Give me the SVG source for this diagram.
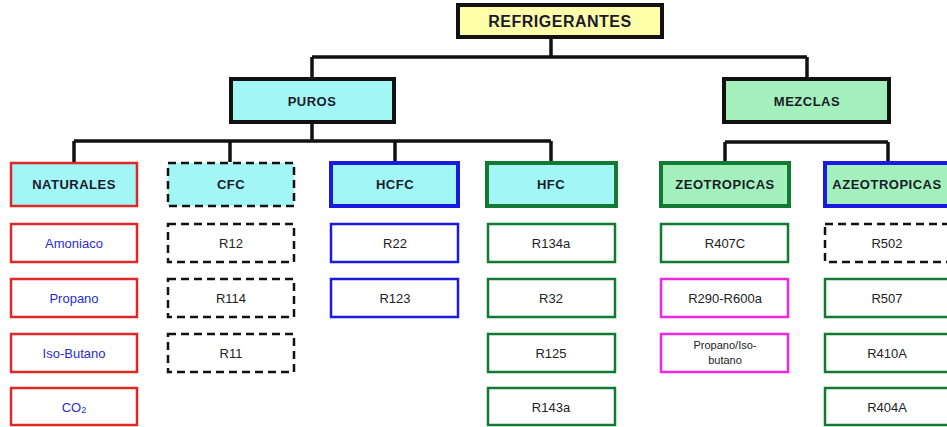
<svg xmlns="http://www.w3.org/2000/svg" width="947" height="427" viewBox="0 0 947 427">
<style>
text{font-family:"Liberation Sans",Arial,sans-serif;text-anchor:middle;dominant-baseline:central}
.hd{font-weight:bold;font-size:13px;fill:#1a1a2a;letter-spacing:0.5px}
.ch{font-size:13px;fill:#222}
.bl{fill:#2a2ad0}
.cy{fill:#a2f6f6}
.gr{fill:#a4f0bc}
.wh{fill:#fff}
.k{stroke:#111;stroke-width:4}
.kd{stroke:#111;stroke-width:2.5;stroke-dasharray:8 5}
.r{stroke:#e02828;stroke-width:2.5}
.b{stroke:#1a1ae0;stroke-width:2.5}
.bt{stroke:#1a1ae0;stroke-width:4}
.g{stroke:#127a32;stroke-width:2.5}
.gt{stroke:#127a32;stroke-width:4}
.m{stroke:#ee28e0;stroke-width:2.5}
.conn{stroke:#111;stroke-width:3.5;fill:none}
</style>
<rect width="947" height="427" fill="#fff"/>
<g id="connectors" class="conn">
<path d="M551,37V57M312,57H807M312,57V78M807,57V78"/>
<path d="M312,122V141M74,141H551M74,141V162M230,141V162M395,141V162M551,141V162"/>
<path d="M725,142H888M725,142V162M888,142V162"/>
</g>
<g id="refrigerantes"><rect x="458" y="5" width="204" height="32" fill="#ffffaa" class="k"/><text x="560" y="21" class="hd" style="font-size:16px">REFRIGERANTES</text></g>
<g id="puros"><rect x="231" y="79" width="163" height="43" class="cy k"/><text x="312" y="101" class="hd">PUROS</text></g>
<g id="mezclas"><rect x="724" y="79" width="165" height="43" class="gr k"/><text x="807" y="101" class="hd">MEZCLAS</text></g>
<g id="naturales"><rect x="11" y="163" width="126" height="43" class="cy r"/><text x="74" y="184" class="hd">NATURALES</text></g>
<g id="cfc"><rect x="168" y="163" width="126" height="43" class="cy kd"/><text x="231" y="184" class="hd">CFC</text></g>
<g id="hcfc"><rect x="331" y="163" width="127" height="43" class="cy bt"/><text x="395" y="184" class="hd">HCFC</text></g>
<g id="hfc"><rect x="487" y="163" width="129" height="43" class="cy gt"/><text x="551" y="184" class="hd">HFC</text></g>
<g id="zeotropicas"><rect x="661" y="163" width="128" height="43" class="gr gt"/><text x="725" y="184" class="hd">ZEOTROPICAS</text></g>
<g id="azeotropicas"><rect x="825" y="163" width="130" height="43" class="gr bt"/><text x="887" y="184" class="hd">AZEOTROPICAS</text></g>
<g id="amoniaco"><rect x="11" y="224" width="126" height="38" class="wh r"/><text x="74" y="243" class="ch bl">Amoniaco</text></g>
<g id="propano"><rect x="11" y="279" width="126" height="38" class="wh r"/><text x="74" y="298" class="ch bl">Propano</text></g>
<g id="isobutano"><rect x="11" y="334" width="126" height="38" class="wh r"/><text x="74" y="353" class="ch bl">Iso-Butano</text></g>
<g id="co2"><rect x="11" y="388" width="126" height="37" class="wh r"/><text x="74" y="407" class="ch bl">CO<tspan font-size="9" dy="3">2</tspan></text></g>
<g id="r12"><rect x="168" y="224" width="126" height="38" class="wh kd"/><text x="231" y="243" class="ch">R12</text></g>
<g id="r114"><rect x="168" y="279" width="126" height="38" class="wh kd"/><text x="231" y="298" class="ch">R114</text></g>
<g id="r11"><rect x="168" y="334" width="126" height="38" class="wh kd"/><text x="231" y="353" class="ch">R11</text></g>
<g id="r22"><rect x="331" y="224" width="127" height="38" class="wh b"/><text x="395" y="243" class="ch">R22</text></g>
<g id="r123"><rect x="331" y="279" width="127" height="38" class="wh b"/><text x="395" y="298" class="ch">R123</text></g>
<g id="r134a"><rect x="488" y="224" width="127" height="38" class="wh g"/><text x="551" y="243" class="ch">R134a</text></g>
<g id="r32"><rect x="488" y="279" width="127" height="38" class="wh g"/><text x="551" y="298" class="ch">R32</text></g>
<g id="r125"><rect x="488" y="334" width="127" height="38" class="wh g"/><text x="551" y="353" class="ch">R125</text></g>
<g id="r143a"><rect x="488" y="388" width="127" height="37" class="wh g"/><text x="551" y="407" class="ch">R143a</text></g>
<g id="r407c"><rect x="661" y="224" width="127" height="38" class="wh g"/><text x="725" y="243" class="ch">R407C</text></g>
<g id="r290"><rect x="661" y="279" width="127" height="38" class="wh m"/><text x="725" y="298" class="ch">R290-R600a</text></g>
<g id="propanoiso"><rect x="661" y="334" width="127" height="38" class="wh m"/><text x="725" y="345" class="ch" style="font-size:11px">Propano/Iso-</text><text x="725" y="360" class="ch" style="font-size:11px">butano</text></g>
<g id="r502"><rect x="825" y="224" width="130" height="38" class="wh kd"/><text x="887" y="243" class="ch">R502</text></g>
<g id="r507"><rect x="825" y="279" width="130" height="38" class="wh g"/><text x="887" y="298" class="ch">R507</text></g>
<g id="r410a"><rect x="825" y="334" width="130" height="38" class="wh g"/><text x="887" y="353" class="ch">R410A</text></g>
<g id="r404a"><rect x="825" y="388" width="130" height="37" class="wh g"/><text x="887" y="407" class="ch">R404A</text></g>
</svg>
